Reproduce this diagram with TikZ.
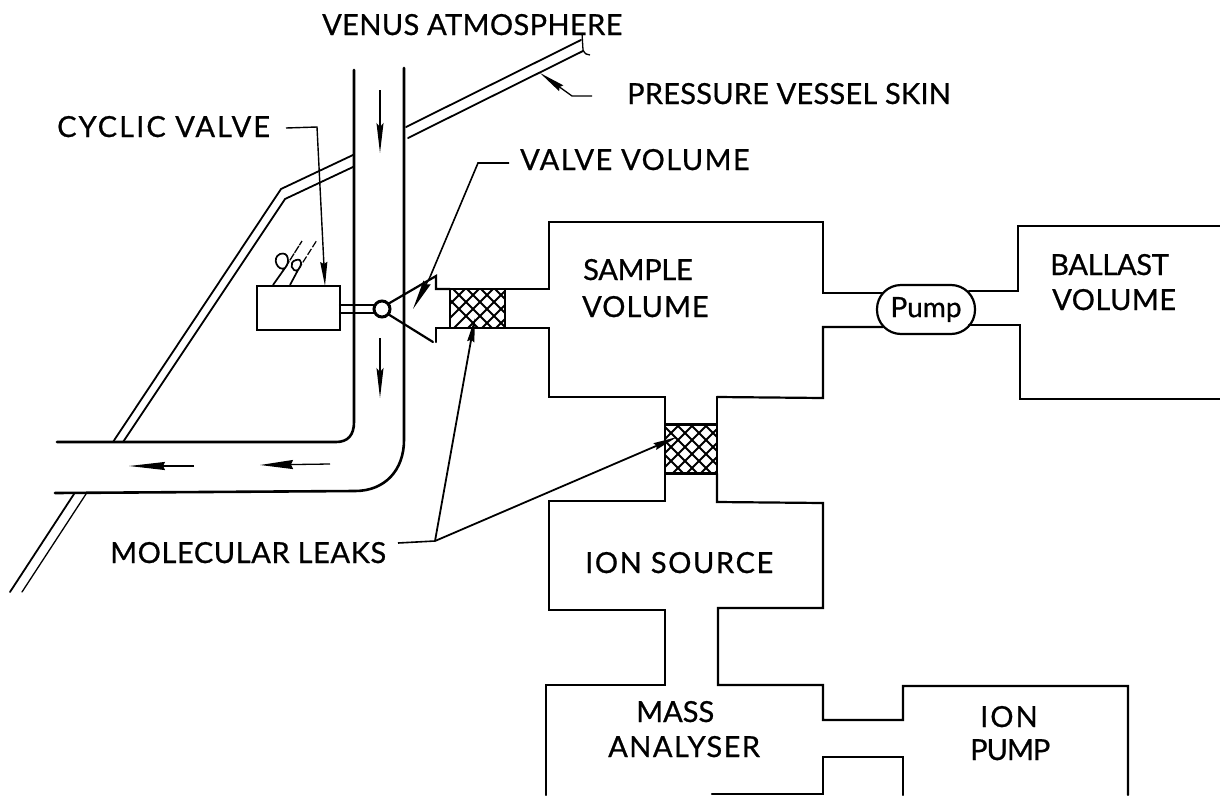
\documentclass[tikz,border=0pt]{standalone}
\usepackage{fontspec}
\setmainfont{Lato}
\usetikzlibrary{arrows.meta,patterns}
\newcommand{\spc}[2]{\addfontfeature{LetterSpace=#1,FakeBold=0.7}#2}
\tikzset{
 wall/.style={line width=2.2pt,line join=miter,line cap=round},
 thinwall/.style={line width=1.8pt,line cap=round},
 lead/.style={line width=1.3pt},
 tip/.style={-{Stealth[length=30pt,width=7pt,inset=4pt]},line width=1.3pt},
 tipsmall/.style={-{Stealth[length=24pt,width=7pt,inset=2pt]},line width=1.4pt},
 lab/.style={font=\fontsize{29}{30}\selectfont,inner sep=0pt,anchor=base west,text=black},
 hatchbox/.style={draw,line width=2.6pt,minimum width=#1,inner sep=0pt,outer sep=0pt},
}
\begin{document}
\begin{tikzpicture}[x=1pt,y=-1pt]
\useasboundingbox (0,0) rectangle (1220,795);
\fill[white] (0,0) rectangle (1220,795);
% tube
\draw[wall,line width=2.6pt] (354,70) -- (354,422) .. controls (354,435) and (348,442) .. (336,442) -- (57,442);
\draw[wall,line width=2.6pt] (404,68) -- (404,440) .. controls (404,470) and (385,491) .. (355,491) -- (55,493);
% skin
\draw[thinwall] (581,40) -- (406,127);
\draw[thinwall] (583,51) -- (408,138);
\draw[thinwall] (353,155) -- (281,189) -- (113,442);
\draw[thinwall] (353,167) -- (285,199) -- (123,442);
\draw[thinwall] (74,494) -- (10,592);
\draw[line width=1.3pt,line cap=round] (86,494) -- (22,592);
\draw[lead] (582,33) -- (583,50) .. controls (585,54) and (587,55) .. (590,55);
% tube arrows
\coordinate (a1s) at (380,90); \coordinate (a1e) at (380,153);
\coordinate (a2s) at (380,338); \coordinate (a2e) at (380,398);
\coordinate (a3s) at (194,466); \coordinate (a3e) at (129,466);
\coordinate (a4s) at (330,464); \coordinate (a4e) at (260,465);
\draw[tip] (a1s) -- (a1e);
\draw[tip] (a2s) -- (a2e);
\draw[tip,-{Stealth[length=36pt,width=8pt,inset=2pt]}] (a3s) -- (a3e);
\draw[tip,-{Stealth[length=33pt,width=9pt,inset=2pt]}] (a4s) -- (a4e);
% valve
\node[draw,line width=2.2pt,minimum width=83pt,minimum height=44pt,inner sep=0pt,outer sep=0pt] (cv) at (298.5,308) {};
\node[draw,circle,line width=3pt,minimum size=16pt,inner sep=0pt,outer sep=0pt,fill=white] (ball) at (382,309) {};
\draw[wall,line width=2.4pt] (cv.east |- 0,305) -- (ball.west |- 0,305);
\draw[wall,line width=2.4pt] (cv.east |- 0,313) -- (ball.west |- 0,313);
% cone
\draw[wall] (ball.40) -- (436,276) -- (436,289) -- (450,289);
\draw[wall] (ball.-40) -- (433,342);
\draw[wall] (436,342) -- (436,328) -- (450,328);
% leak 1
\node[hatchbox=55pt,minimum height=39pt] (leakA) at (477.5,308.5) {};
\begin{scope}
\clip (leakA.south west) rectangle (leakA.north east);
\foreach \i in {0,...,12}{
 \draw[line width=2pt] (400+\i*14,340) -- (470+\i*14,270);
 \draw[line width=2pt] (420+\i*14,270) -- (490+\i*14,340);
}
\end{scope}
\node[hatchbox=52pt,minimum height=49pt] (leakB) at (691,449) {};
\begin{scope}
\clip (leakB.south west) rectangle (leakB.north east);
\foreach \i in {0,...,12}{
 \draw[line width=2pt] (610+\i*14,480) -- (670+\i*14,420);
 \draw[line width=2pt] (630+\i*14,420) -- (690+\i*14,480);
}
\end{scope}
% pump
\node[draw,line width=2.2pt,rounded corners=24pt,minimum width=98pt,minimum height=49pt,inner sep=0pt,outer sep=0pt,font=\fontsize{28}{28}\selectfont] (pump) at (926,309.5) {\spc{0}{Pump}};
% sample volume
\draw[wall] (leakA.north east) -- (549,289) -- (549,222) -- (823,222) -- (823,293) -- (883,293);
\draw[wall] (leakA.south east) -- (549,328) -- (549,397) -- (665,397) -- (leakB.north west);
\draw[wall] (717,397) -- (leakB.north east);
\draw[wall] (717,397) -- (823,398) -- (823,327) -- (883,327);
% ballast
\draw[wall] (969,291) -- (1018,291) -- (1018,226) -- (1220,226);
\draw[wall] (969,325) -- (1020,325) -- (1020,399) -- (1220,399);
% ion source, mass analyser, ion pump
\draw[wall] (leakB.south west) -- (665,501) -- (549,501) -- (549,610) -- (665,610) -- (665,685) -- (546,685) -- (546,795);
\draw[wall] (leakB.south east) -- (717,502) -- (823,503) -- (823,608) -- (718,608) -- (718,685) -- (823,685) -- (823,720) -- (903,720) -- (903,686) -- (1128,686) -- (1128,795);
\draw[wall] (712,794) -- (823,794) -- (823,757) -- (903,757) -- (903,795);
% labels
\node[lab] (venus) at (322,35) {\spc{1.3}{VENUS ATMOSPHERE}};
\node[lab] (press) at (627,104) {\spc{0.8}{PRESSURE VESSEL SKIN}};
\node[lab] (cyclic) at (57,137) {\spc{7.2}{CYCLIC VALVE}};
\node[lab] (vvol) at (520,170) {\spc{4.9}{VALVE VOLUME}};
\node[lab] (sam) at (583,280) {\spc{-1}{SAMPLE}};
\node[lab] (svol) at (582,317) {\spc{3.5}{VOLUME}};
\node[lab] (bal) at (1050,275) {\spc{-1}{BALLAST}};
\node[lab] (bvol) at (1052,310) {\spc{1.7}{VOLUME}};
\node[lab] (mol) at (110,563) {\spc{2}{MOLECULAR LEAKS}};
\node[lab] (ionsrc) at (585,573) {\spc{5.5}{ION SOURCE}};
\node[lab] (mass) at (636,722) {\spc{0}{MASS}};
\node[lab] (ana) at (608,757) {\spc{5}{ANALYSER}};
\node[lab] (ion) at (980,727) {\spc{7}{ION}};
\node[lab] (ipump) at (970,760) {\spc{-3.5}{PUMP}};
% leaders
\coordinate (k1) at (317,127); \coordinate (cvt) at (325,286);
\draw[tipsmall] (286,128) -- (k1) -- (cvt);
\coordinate (k2) at (478,163); \coordinate (k3) at (430,277); \coordinate (vt) at (413,309);
\draw[lead,line width=1.6pt] (509,163) -- (k2) -- (k3);
\draw[-{Stealth[length=30pt,width=8pt,inset=2pt]},line width=1.3pt] (k3) -- (vt);
\coordinate (k4) at (572,96); \coordinate (sk) at (540,73);
\draw[-{Stealth[length=26pt,width=7pt,inset=2pt]},line width=1.3pt] (592,96) -- (k4) -- (sk);
\coordinate (k5) at (435,541); \coordinate (lt1) at (475,318); \coordinate (lt2) at (677,437);
\draw[lead,line width=1.6pt] (398,543) -- (k5);
\draw[tipsmall,line width=1.8pt] (k5) -- (lt1);
\draw[tipsmall,line width=1.8pt] (k5) -- (lt2);
% wires
\draw[line width=1.7pt] (273,285) -- (285,268) .. controls (278,272) and (271,258) .. (280,254) .. controls (289,251) and (290,263) .. (285,268);
\draw[line width=1.3pt,dash pattern=on 8pt off 1pt] (285,268) -- (302,241);
\draw[line width=1.7pt] (290,285) -- (298,270) .. controls (292,273) and (288,262) .. (296,260) .. controls (303,258) and (302,266) .. (298,270);
\draw[line width=1.2pt,dash pattern=on 7pt off 2pt] (298,270) -- (317,240);
\end{tikzpicture}
\end{document}
